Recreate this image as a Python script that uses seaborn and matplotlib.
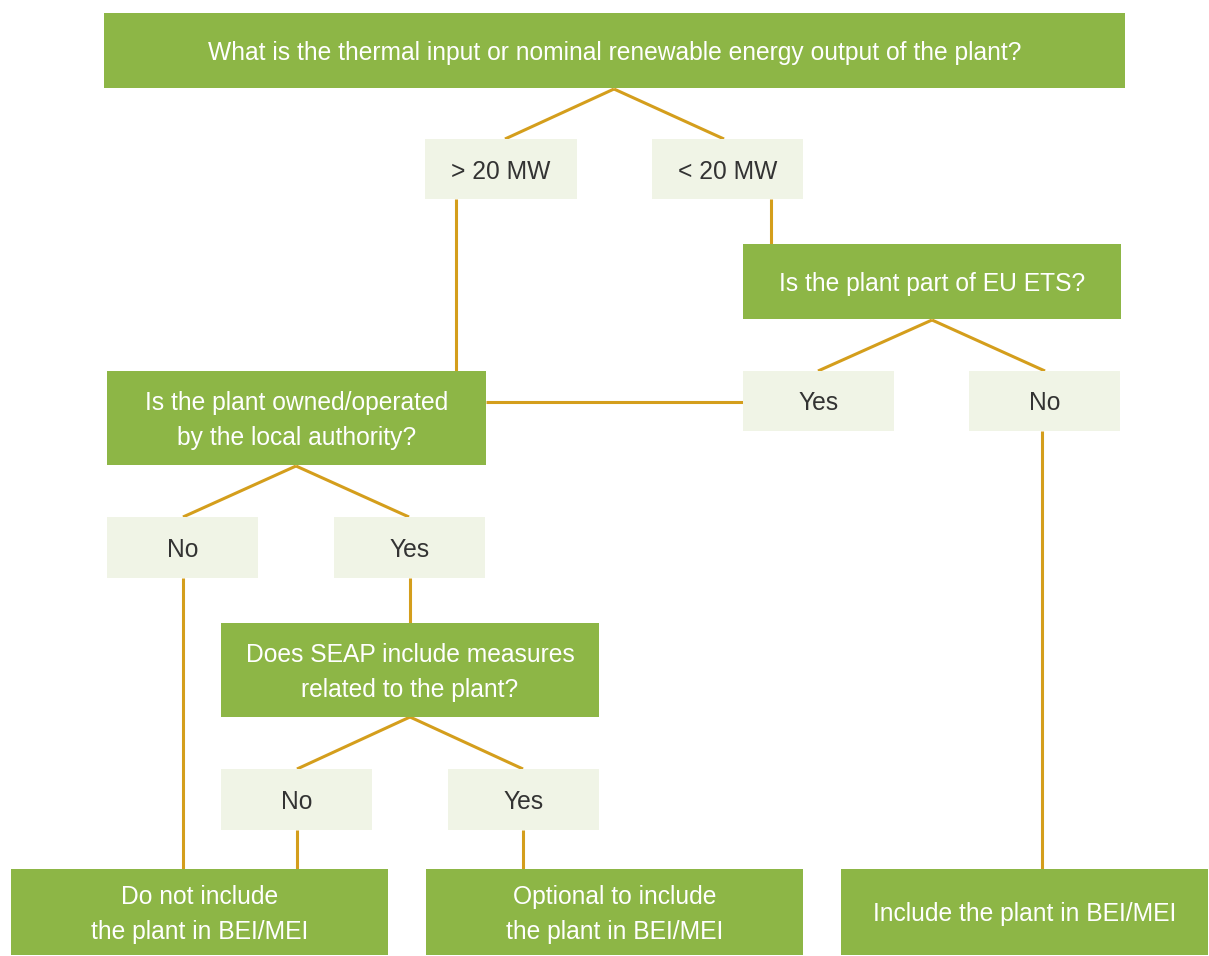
import matplotlib
matplotlib.use("Agg")
import matplotlib.pyplot as plt
from matplotlib.patches import Rectangle
import seaborn as sns

sns.set_theme(style="white")
plt.rcParams['font.family'] = ['Liberation Sans', 'DejaVu Sans']

GREEN = '#8db646'
PALE = '#f0f4e6'
GOLD = '#d49e1c'
DARK = '#333333'

# node labels
questions = [
    "What is the thermal input or nominal renewable energy output of the plant?",
    "Is the plant part of EU ETS?",
    "Is the plant owned/operated\nby the local authority?",
    "Does SEAP include measures\nrelated to the plant?",
]
answers = ["> 20 MW", "< 20 MW", "Yes", "No", "No", "Yes", "No", "Yes"]
outcomes = [
    "Do not include\nthe plant in BEI/MEI",
    "Optional to include\nthe plant in BEI/MEI",
    "Include the plant in BEI/MEI",
]

# layout in pixel coords (x0, y0, x1, y1)
q_boxes = [(104, 13, 1125, 88), (743, 244, 1121, 319),
           (107, 371, 486, 465), (221, 623, 599, 717)]
a_boxes = [(425, 139, 577, 199), (652, 139, 803, 199),
           (743, 371, 894, 431), (969, 371, 1120, 431),
           (107, 517, 258, 578), (334, 517, 485, 578),
           (221, 769, 372, 830), (448, 769, 599, 830)]
o_boxes = [(11, 869, 388, 955), (426, 869, 803, 955), (841, 869, 1208, 955)]

connectors = [
    [(614, 89), (505, 139)], [(614, 89), (724, 139)],
    [(456, 199), (456, 371)],
    [(771, 199), (771, 244)],
    [(932, 320), (818, 371)], [(932, 320), (1045, 371)],
    [(743, 402), (486, 402)],
    [(1042, 431), (1042, 869)],
    [(296, 466), (183, 517)], [(296, 466), (409, 517)],
    [(183, 578), (183, 869)],
    [(410, 578), (410, 623)],
    [(410, 717), (297, 769)], [(410, 717), (523, 769)],
    [(297, 830), (297, 869)],
    [(523, 830), (523, 869)],
]

fig, ax = plt.subplots(figsize=(12.09, 9.56), dpi=100)
fig.subplots_adjust(0, 0, 1, 1)
ax.set_xlim(0, 1209)
ax.set_ylim(956, 0)
ax.axis('off')

for seg in connectors:
    xs = [p[0] for p in seg]
    ys = [p[1] for p in seg]
    ax.plot(xs, ys, color=GOLD, lw=2.2, solid_capstyle='butt', zorder=1)


def box(b, label, face, color):
    x0, y0, x1, y1 = b
    ax.add_patch(Rectangle((x0, y0), x1 - x0, y1 - y0, facecolor=face,
                           edgecolor='none', zorder=2))
    ax.text((x0 + x1) / 2, (y0 + y1) / 2 + 2.5, label, ha='center', va='center',
            color=color, fontsize=17.7, linespacing=1.6, zorder=3)


for b, t in zip(q_boxes, questions):
    box(b, t, GREEN, 'white')
for b, t in zip(a_boxes, answers):
    box(b, t, PALE, DARK)
for b, t in zip(o_boxes, outcomes):
    box(b, t, GREEN, 'white')

plt.savefig('out.png', dpi=100)
